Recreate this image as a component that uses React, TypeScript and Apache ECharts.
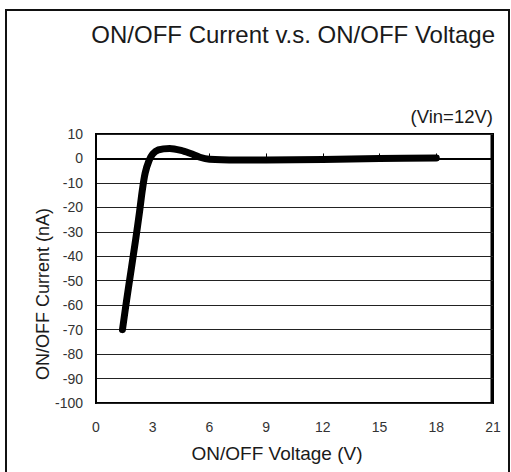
import React, { useEffect, useRef } from "react";
import * as echarts from "echarts";

const titleText = "ON/OFF Current v.s. ON/OFF Voltage";
const noteText = "(Vin=12V)";
const xName = "ON/OFF Voltage (V)";
const yName = "ON/OFF Current (nA)";

const voltage = [1.4, 1.6, 1.85, 2.1, 2.3, 2.45, 2.6, 2.8, 3.0, 3.3, 3.9, 4.5, 5.0, 5.5, 6.0, 7.5, 9, 12, 15, 18];
const current = [-70, -59, -46, -33, -22, -13, -6, -1, 1.8, 3.5, 4.1, 3.3, 2.0, 0.5, -0.3, -0.6, -0.6, -0.4, 0, 0.2];

export default function App() {
  const ref = useRef<HTMLDivElement>(null);
  useEffect(() => {
    if (!ref.current) return;
    const chart = echarts.init(ref.current, null, { renderer: "svg" });
    const font = "'Liberation Sans', Arial, sans-serif";
    chart.setOption({
      animation: false,
      backgroundColor: "#fff",
      textStyle: { fontFamily: font },
      grid: {
        left: 96,
        top: 134,
        right: 18,
        bottom: 69,
        show: true,
        borderColor: "#000",
        borderWidth: 2,
        backgroundColor: "transparent",
      },
      graphic: [
        {
          type: "rect",
          shape: { x: 6, y: 10, width: 503, height: 480 },
          style: { fill: "none", stroke: "#111", lineWidth: 2 },
          silent: true,
        },
        {
          type: "text",
          right: 16,
          top: 22,
          style: { text: titleText, font: `24px ${font}`, fill: "#1a1a1a" },
        },
        {
          type: "text",
          right: 18,
          top: 107,
          style: { text: noteText, font: `18.5px ${font}`, fill: "#1a1a1a" },
        },
        {
          type: "text",
          x: 277,
          y: 444,
          style: { text: xName, font: `19px ${font}`, fill: "#1a1a1a", align: "center" },
        },
        {
          type: "text",
          x: 43,
          y: 294,
          rotation: Math.PI / 2,
          style: {
            text: yName,
            font: `18px ${font}`,
            fill: "#1a1a1a",
            align: "center",
            verticalAlign: "middle",
          },
        },
        {
          type: "line",
          shape: { x1: 492, y1: 133, x2: 492, y2: 404 },
          style: { stroke: "#000", lineWidth: 3 },
          silent: true,
        },
      ],
      xAxis: {
        type: "value",
        min: 0,
        max: 21,
        interval: 3,
        axisLine: { show: true, lineStyle: { color: "#000", width: 2 } },
        axisTick: { show: true, inside: true, length: 5, lineStyle: { color: "#000", width: 1 } },
        axisLabel: { color: "#333", fontSize: 14, margin: 17, fontFamily: font },
        splitLine: { show: false },
      },
      yAxis: {
        type: "value",
        min: -100,
        max: 10,
        interval: 10,
        axisLine: { show: true, lineStyle: { color: "#000", width: 2 } },
        axisTick: { show: false },
        axisLabel: { color: "#333", fontSize: 14, margin: 13, fontFamily: font },
        splitLine: { show: true, lineStyle: { color: "#222", width: 1 } },
      },
      series: [
        {
          type: "line",
          data: voltage.map((v, i) => [v, current[i]]),
          smooth: 0.3,
          showSymbol: false,
          lineStyle: { color: "#000", width: 7, cap: "round", join: "round" },
        },
      ],
    });
    return () => chart.dispose();
  }, []);
  return (
    <div
      ref={ref}
      style={{ position: "absolute", left: 0, top: 0, width: 511, height: 472 }}
    />
  );
}
